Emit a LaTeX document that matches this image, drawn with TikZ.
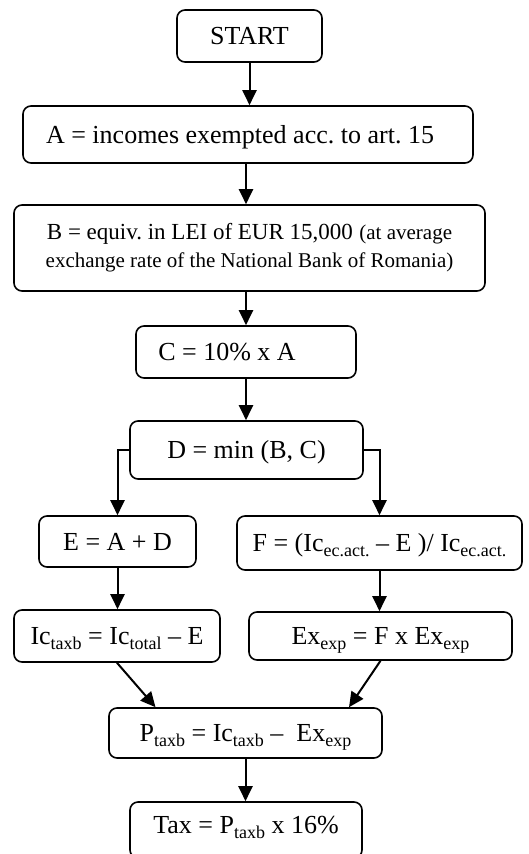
\documentclass[tikz,border=0pt]{standalone}
\usepackage{fontspec}
\setmainfont{Liberation Serif}
\usetikzlibrary{arrows.meta}
\frenchspacing

% lowered small text for the indices
\newcommand{\lowtxt}[1]{\raisebox{-0.2em}{\fontsize{18}{18}\selectfont #1}}

\begin{document}
\begin{tikzpicture}[x=1pt,y=-1pt]

% --- Global TikZ Styles ---
\tikzset{
    stepbox/.style={
        draw=black,
        line width=1.6pt,
        rounded corners=8pt,
        inner sep=0pt,
        font=\fontsize{26}{28}\selectfont
    },
    linebox/.style={
        stepbox,
        text height=20pt,
        text depth=3pt
    },
    flowarrow/.style={
        -{Triangle[width=14pt,length=15pt]},
        line width=2pt,
        draw=black
    }
}

\useasboundingbox (0,0) rectangle (528,854);

% ==================================================
% --- Main column ---
% ==================================================

\node[linebox, minimum width=145pt, minimum height=52pt] (start) at (249.5,36) {START};

\node[linebox, minimum width=450pt, minimum height=57pt] (A) at (248,134.5)
    {A = incomes exempted acc. to art. 15\hspace{16pt}\null};

\node[stepbox, align=center, minimum width=471pt, minimum height=86pt] (B) at (249.5,248)
    {{\fontsize{23}{28}\selectfont B = equiv. in LEI of EUR 15,000} {\fontsize{21}{28}\selectfont (at average}\\
     {\fontsize{21}{28}\selectfont exchange rate of the National Bank of Romania)}};

\node[linebox, minimum width=220pt, minimum height=52pt] (C) at (246,352)
    {C = 10\% x A\hspace{38pt}\null};

\node[linebox, minimum width=233pt, minimum height=58pt] (D) at (246.5,450)
    {D = min (B, C)};

% ==================================================
% --- Left branch ---
% ==================================================

\node[linebox, minimum width=157pt, minimum height=51pt] (E) at (117.5,541.5)
    {E = A + D};

\node[linebox, minimum width=206pt, minimum height=52pt] (Ic) at (117,636)
    {Ic\lowtxt{taxb} = Ic\lowtxt{total} -- E};

% ==================================================
% --- Right branch ---
% ==================================================

\node[linebox, minimum width=285pt, minimum height=54pt] (F) at (379.5,543)
    {F = (Ic\lowtxt{ec.act.} -- E )/ Ic\lowtxt{ec.act.}};

\node[linebox, minimum width=263pt, minimum height=48pt] (Ex) at (380.5,636)
    {Ex\lowtxt{exp} = F x Ex\lowtxt{exp}};

% ==================================================
% --- Result ---
% ==================================================

\node[linebox, minimum width=273pt, minimum height=50pt] (P) at (245.5,733)
    {P\lowtxt{taxb} = Ic\lowtxt{taxb} --~ Ex\lowtxt{exp}};

% box runs off the bottom edge
\node[linebox, text depth=14pt, minimum width=232pt, minimum height=56pt] (Tax) at (246,830)
    {Tax = P\lowtxt{taxb} x 16\%};

% ==================================================
% --- Arrows ---
% ==================================================

\draw[flowarrow] (start.south) -- (start.south |- A.north);
\draw[flowarrow] (C.north |- A.south) -- (C.north |- B.north);
\draw[flowarrow] (C.north |- B.south) -- (C.north);
\draw[flowarrow] (C.south) -- (C.south |- D.north);

% Split from D
\draw[flowarrow] (D.west) -| (E.north);
\draw[flowarrow] (D.east) -| (F.north);

\draw[flowarrow] (E.south) -- (E.south |- Ic.north);
\draw[flowarrow] (F.south) -- (F.south |- Ex.north);

% Join into P
\draw[flowarrow] (Ic.south) -- (P.164);
\draw[flowarrow] (Ex.south) -- (P.14);

\draw[flowarrow] (P.south) -- (P.south |- Tax.north);

\end{tikzpicture}
\end{document}
